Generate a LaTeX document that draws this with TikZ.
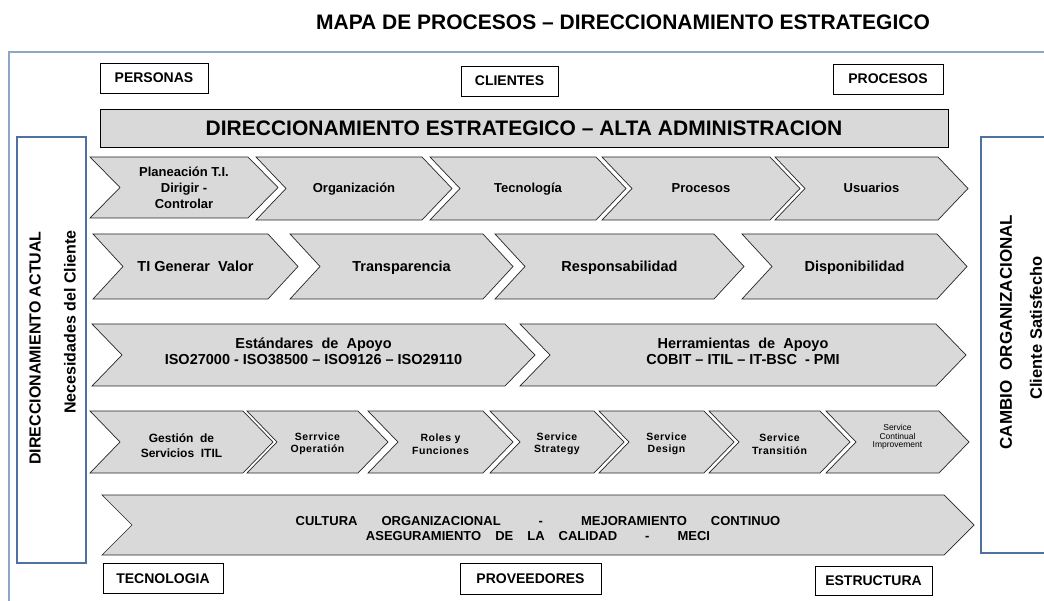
\documentclass[tikz,border=0pt]{standalone}
\usepackage{fontspec}
\setmainfont{Liberation Sans}
\newfontfamily\widefont[LetterSpace=5]{Liberation Sans}
\usetikzlibrary{shadows}
\pgfdeclarelayer{nodelayer}
\pgfdeclarelayer{edgelayer}
\pgfsetlayers{edgelayer,nodelayer,main}
\definecolor{panelgray}{HTML}{D9D9D9}
\definecolor{barblue}{HTML}{4F71A0}
\definecolor{frameblue}{HTML}{8EA6C6}
\tikzstyle{frame}=[draw=frameblue, line width=1.2pt]
\tikzstyle{side bar}=[draw=barblue, line width=1.8pt, fill=white]
\tikzstyle{chevron}=[draw=black!85, fill=panelgray, line width=0.7pt, line join=miter]
\tikzstyle{label box}=[draw=black, fill=white, line width=0.8pt, font=\bfseries\fontsize{14}{16}\selectfont, text height=10pt, text depth=0pt, drop shadow={shadow xshift=1.2pt, shadow yshift=-1.2pt, opacity=0.6}]
\tikzstyle{top bar}=[draw=black, fill=panelgray, line width=0.9pt, font=\bfseries\fontsize{21}{24}\selectfont, minimum width=848pt, minimum height=38pt]
\tikzstyle{title}=[font=\bfseries\fontsize{21}{24}\selectfont]
\tikzstyle{side text}=[rotate=90, font=\bfseries\fontsize{16}{18}\selectfont]
\tikzstyle{row one}=[align=center, font=\bfseries\fontsize{13}{16}\selectfont]
\tikzstyle{flat one}=[text height=9.3pt, text depth=0pt]
\tikzstyle{row two}=[align=center, font=\bfseries\fontsize{14.5}{16}\selectfont, text height=10.4pt, text depth=0pt]
\tikzstyle{row three}=[align=center, font=\bfseries\fontsize{14.5}{16}\selectfont]
\tikzstyle{row four}=[align=center, font=\widefont\bfseries\fontsize{10.5}{12.5}\selectfont]
\tikzstyle{row four small}=[align=center, font=\fontsize{8.5}{8.5}\selectfont]
\tikzstyle{row five}=[align=center, font=\bfseries\fontsize{13}{15}\selectfont]
% chevron: left x, tip x, top y, bottom y
\newcommand{\chev}[4]{%
  \draw[chevron] (#1,#3) -- ({#2-30},#3) -- (#2,{(#3+#4)/2}) -- ({#2-30},#4)
    -- (#1,#4) -- ({#1+30},{(#3+#4)/2}) -- cycle;}

\begin{document}
\begin{tikzpicture}[x=1pt, y=-1pt]
    \useasboundingbox (0,0) rectangle (1044,601);
    	\begin{pgfonlayer}{edgelayer}
    		\draw [style=frame] (1044,52) -- (9,52) -- (9,601);
    		\draw [style=side bar] (17,137) rectangle (86,563);
    		\draw [style=side bar] (1044,137) -- (981,137) -- (981,553) -- (1044,553);
    		% row 1
    		\chev{90}{278}{157}{218}
    		\chev{256}{452}{157}{220}
    		\chev{430}{626}{157}{220}
    		\chev{602}{800}{157}{220}
    		\chev{775}{968}{157}{220}
    		% row 2
    		\chev{93}{298}{234}{299}
    		\chev{290}{513}{234}{299}
    		\chev{495}{744}{234}{299}
    		\chev{742}{967}{234}{299}
    		% row 3
    		\chev{92}{535}{324}{386}
    		\chev{520}{966}{324}{386}
    		% row 4
    		\chev{90}{273}{411}{473}
    		\chev{247}{388}{411}{473}
    		\chev{368}{513}{411}{473}
    		\chev{490}{624}{411}{473}
    		\chev{599}{734}{411}{473}
    		\chev{709}{850}{411}{473}
    		\chev{826}{969}{411}{473}
    		% row 5
    		\chev{102}{974}{495}{555}
    	\end{pgfonlayer}
    	\begin{pgfonlayer}{nodelayer}
    		\node [style=title] (0) at (623,22) {MAPA DE PROCESOS – DIRECCIONAMIENTO ESTRATEGICO};
    		\node [style=label box, minimum width=108pt, minimum height=30pt] (1) at (154,78) {PERSONAS};
    		\node [style=label box, minimum width=97pt, minimum height=30pt] (2) at (509.5,81) {CLIENTES};
    		\node [style=label box, minimum width=110pt, minimum height=30pt] (3) at (888,79) {PROCESOS};
    		\node [style=top bar] (4) at (524,128) {DIRECCIONAMIENTO ESTRATEGICO – ALTA ADMINISTRACION};
    		\node [style=side text] (5) at (35,348) {DIRECCIONAMIENTO ACTUAL};
    		\node [style=side text] (6) at (70,322) {Necesidades del Cliente};
    		\node [style=side text, font=\bfseries\fontsize{17}{19}\selectfont] (7) at (1006,332) {CAMBIO\hspace{10pt}ORGANIZACIONAL};
    		\node [style=side text, font=\bfseries\fontsize{16.5}{18}\selectfont] (8) at (1036,328) {Cliente Satisfecho};
    		\node [style=row one] (9) at (184,188) {Planeación T.I.\\Dirigir -\\Controlar};
    		\node [style=row one, style=flat one] (10) at (354,188) {Organización};
    		\node [style=row one, style=flat one] (11) at (528,188) {Tecnología};
    		\node [style=row one, style=flat one] (12) at (701,188) {Procesos};
    		\node [style=row one, style=flat one] (13) at (871.5,188) {Usuarios};
    		\node [style=row two] (14) at (195.5,266) {TI Generar\ \ Valor};
    		\node [style=row two] (15) at (401.5,266) {Transparencia};
    		\node [style=row two] (16) at (619.5,266) {Responsabilidad};
    		\node [style=row two] (17) at (854.5,266) {Disponibilidad};
    		\node [style=row three] (18) at (313.5,351) {Estándares\ \ de\ \ Apoyo\\ISO27000 - ISO38500 – ISO9126 – ISO29110};
    		\node [style=row three] (19) at (743,351) {Herramientas\ \ de\ \ Apoyo\\COBIT – ITIL – IT-BSC\ \ - PMI};
    		\node [style=row three, font=\bfseries\fontsize{12}{15}\selectfont] (20) at (181.5,446) {Gestión\ \ de\\Servicios\ \ ITIL};
    		\node [style=row four] (21) at (317.5,444) {Serrvice\\Operatión};
    		\node [style=row four] (22) at (440.5,444) {Roles y\\Funciones};
    		\node [style=row four] (23) at (557,444) {Service\\Strategy};
    		\node [style=row four] (24) at (666.5,444) {Service\\Design};
    		\node [style=row four] (25) at (779.5,444) {Service\\Transitión};
    		\node [style=row four small] (26) at (897.5,437) {Service\\Continual\\Improvement};
    		\node [style=row five] (27) at (538,529) {CULTURA\hspace{24pt}ORGANIZACIONAL\hspace{38pt}-\hspace{38pt}MEJORAMIENTO\hspace{24pt}CONTINUO\\ASEGURAMIENTO\hspace{14pt}DE\hspace{14pt}LA\hspace{14pt}CALIDAD\hspace{28pt}-\hspace{28pt}MECI};
    		\node [style=label box, minimum width=120pt, minimum height=30pt] (28) at (163,578) {TECNOLOGIA};
    		\node [style=label box, minimum width=141pt, minimum height=31pt] (29) at (530.5,578.5) {PROVEEDORES};
    		\node [style=label box, minimum width=117pt, minimum height=29pt] (30) at (873.5,580.5) {ESTRUCTURA};
    	\end{pgfonlayer}
    \end{tikzpicture}
\end{document}
